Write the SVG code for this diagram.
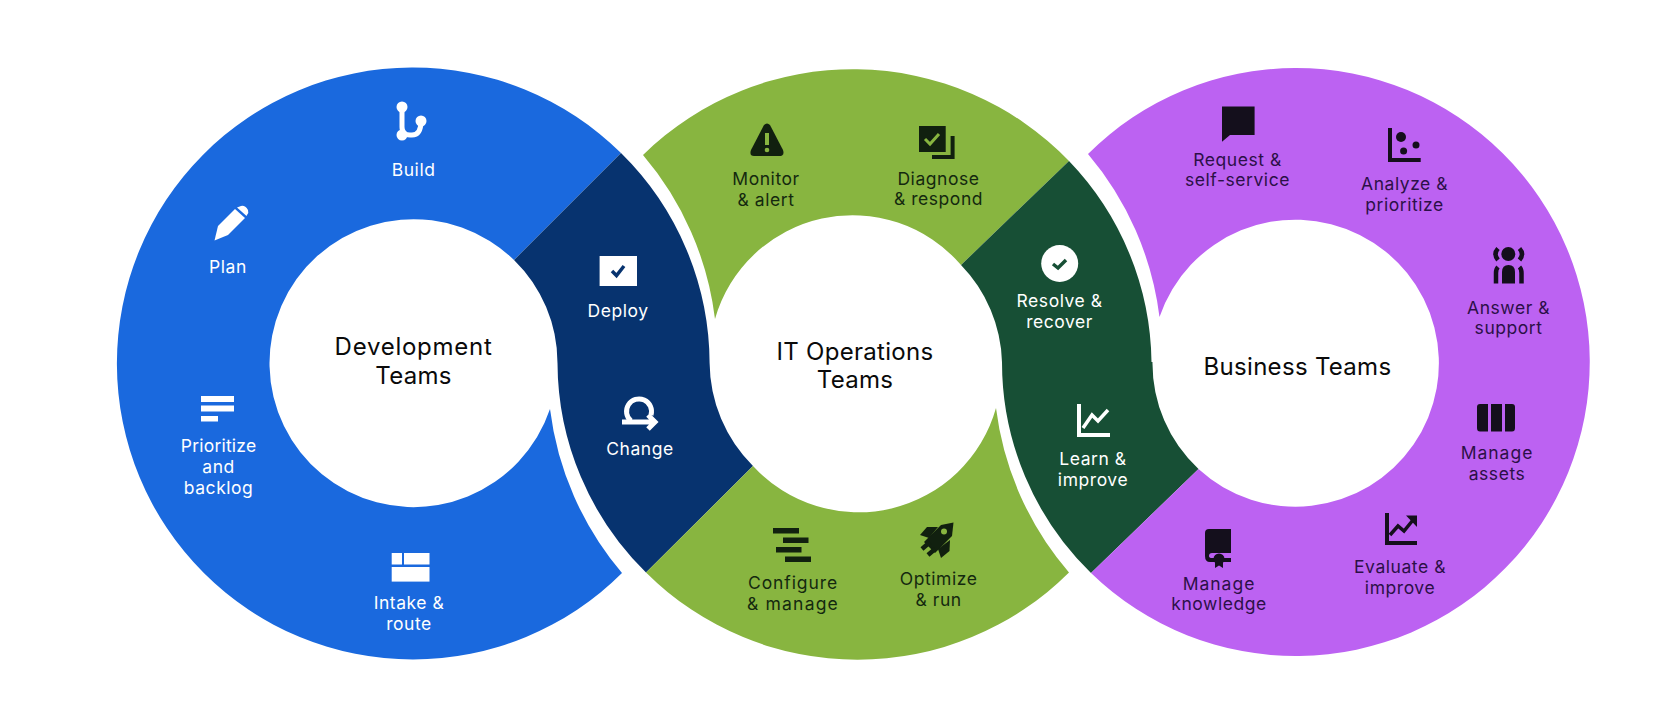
<svg xmlns="http://www.w3.org/2000/svg" width="1680" height="714" viewBox="0 0 1680 714">
<style>
text{font-family:"Inter","Liberation Sans",sans-serif;text-anchor:middle;font-size:17.5px;letter-spacing:.55px}
.w{fill:#fff}.g{fill:#14290f}.p{fill:#2c1048}.t{font-size:24px;fill:#0a0a0a;letter-spacing:.3px}
.iw{fill:#fff}.ig{fill:#11200f}.ip{fill:#140f1c}
.sw{fill:none;stroke:#fff}.sg{fill:none;stroke:#11200f}.sp{fill:none;stroke:#140f1c}
</style>
<rect width="1680" height="714" fill="#fff"/>
<g id="connectors"></g>
<g id="bands">
<path id="dev-ring" fill="#1a69de" d="M621 153A296 296 0 1 0 622 573A312 312 0 0 1 550 409A144 144 0 1 1 514 260Z"/>
<path id="dev-ops" fill="#07336f" d="M621 153L514 260A144 144 0 0 1 557.500 363A295 295 0 0 0 646 572.500L753 466A147 147 0 0 1 709.600 363A296 296 0 0 0 621 153Z"/>
<path id="ops-top" fill="#88b540" d="M643 155A300 300 0 0 1 1069 161L961 265A143 143 0 0 0 715 319A311 311 0 0 0 643 155Z"/>
<path id="ops-bottom" fill="#88b540" d="M646 572.500L753 466A143 143 0 0 0 996 408A311 311 0 0 0 1069 572.500A300 300 0 0 1 646 572.500Z"/>
<path id="ops-biz" fill="#174f35" d="M1069 161L961 265A145 145 0 0 1 1002 362A294 294 0 0 0 1091 573L1198.500 469A144 144 0 0 1 1152.500 362L1151.500 362A295 295 0 0 0 1069 161Z"/>
<path id="biz-ring" fill="#bc62f2" d="M1088 154A294 294 0 1 1 1091 573L1198.500 469A143.500 143.500 0 1 0 1159.500 317A311 311 0 0 0 1088 154Z"/>
</g>
<g id="dev-title"><text class="t" x="413.600" y="355" style="letter-spacing:.75px">Development</text><text class="t" x="413.600" y="384">Teams</text></g>
<g id="ops-title"><text class="t" x="855" y="360">IT Operations</text><text class="t" x="855" y="388">Teams</text></g>
<g id="biz-title"><text class="t" x="1297.500" y="375">Business Teams</text></g>
<g id="build"><path class="sw" stroke-width="5" d="M402 107V127Q402 135 410 135H412Q421 135 421 121"/><circle class="iw" cx="402" cy="107" r="5.500"/><circle class="iw" cx="402" cy="135" r="5.500"/><circle class="iw" cx="421" cy="121" r="5.500"/><text class="w" x="413.600" y="176">Build</text></g>
<g id="plan"><path class="iw" d="M214.500 240.500L218 226L235 209L245 218L228 235Z"/><path class="iw" d="M237 207.500L241 206Q245 205 248 210Q249 213 247 215L246.500 216Z"/><text class="w" x="228" y="273">Plan</text></g>
<g id="prioritize"><rect class="iw" x="201" y="396" width="33" height="6"/><rect class="iw" x="201" y="405.500" width="33" height="6"/><rect class="iw" x="201" y="416" width="17" height="5.500"/><text class="w" x="218.600" y="452" style="letter-spacing:.2px">Prioritize</text><text class="w" x="218.600" y="473">and</text><text class="w" x="218.600" y="494">backlog</text></g>
<g id="intake"><rect class="iw" x="391.700" y="553" width="10.300" height="11.500"/><rect class="iw" x="404" y="553" width="25.500" height="11.500"/><rect class="iw" x="391.700" y="567" width="37.800" height="14.600"/><text class="w" x="409" y="609">Intake &amp;</text><text class="w" x="409" y="630">route</text></g>
<g id="deploy"><rect class="iw" x="599.600" y="256" width="37.400" height="30"/><path fill="none" stroke="#07336f" stroke-width="3.500" d="M612 271L616.500 275.500L624 266"/><text class="w" x="618" y="317">Deploy</text></g>
<g id="change"><path class="sw" stroke-width="5" d="M631 421A12.500 12.500 0 1 1 651 415"/><path class="sw" stroke-width="5" d="M622 422H654M648 415L655 422L648 429"/><text class="w" x="640" y="455">Change</text></g>
<g id="monitor"><path class="ig" d="M764 125Q767 122 770 125L783 150Q785 156 779 156H754Q749 156 751 150Z"/><rect x="765" y="133" width="4" height="12" fill="#88b540"/><circle cx="767" cy="150" r="2.300" fill="#88b540"/><text class="g" x="766" y="185">Monitor</text><text class="g" x="766" y="206">&amp; alert</text></g>
<g id="diagnose"><rect class="ig" x="919" y="126" width="26.700" height="26"/><path fill="none" stroke="#88b540" stroke-width="3" d="M925 139L930 144L939 134"/><path class="sg" stroke-width="4" d="M932 157H952.600V136"/><text class="g" x="938.500" y="185">Diagnose</text><text class="g" x="938.500" y="205">&amp; respond</text></g>
<g id="configure"><rect class="ig" x="773" y="528" width="26" height="5.500"/><rect class="ig" x="783" y="537.500" width="25.500" height="5.500"/><rect class="ig" x="776" y="547" width="25.500" height="5.500"/><rect class="ig" x="785" y="556.500" width="26" height="5.500"/><text class="g" x="793" y="589" style="letter-spacing:.9px">Configure</text><text class="g" x="793" y="610" style="letter-spacing:1.2px">&amp; manage</text></g>
<g id="optimize"><path class="ig" d="M953.500 522.500L952 536L935 553L924 542L941 525Z"/><path class="ig" d="M938 527L927 527L920 535L929 538Z"/><path class="ig" d="M950 540L949.500 551L941 558L938 549Z"/><path class="sg" stroke-width="4.500" d="M922 549L930 542M928 555L935 549"/><circle cx="944" cy="531.500" r="3" fill="#88b540"/><text class="g" x="938.600" y="585">Optimize</text><text class="g" x="938.600" y="606">&amp; run</text></g>
<g id="resolve"><circle class="iw" cx="1059.700" cy="263.500" r="18.500"/><path fill="none" stroke="#174f35" stroke-width="3.500" d="M1053 264L1058 268L1066 260"/><text class="w" x="1059.600" y="307">Resolve &amp;</text><text class="w" x="1059.600" y="328">recover</text></g>
<g id="learn"><path class="sw" stroke-width="4" d="M1079 404V435H1110"/><path class="sw" stroke-width="3.500" d="M1083 428L1092 415L1098 421L1108 410"/><text class="w" x="1093" y="465">Learn &amp;</text><text class="w" x="1093" y="486">improve</text></g>
<g id="request"><path class="ip" d="M1222 106.500H1254.600V135H1230L1222 141.700Z"/><text class="p" x="1237.500" y="166">Request &amp;</text><text class="p" x="1237.500" y="186">self-service</text></g>
<g id="analyze"><path class="sp" stroke-width="4" d="M1390 128V160H1420.700"/><circle class="ip" cx="1401" cy="137" r="5"/><circle class="ip" cx="1416" cy="145" r="3.500"/><circle class="ip" cx="1403.600" cy="151" r="3.500"/><text class="p" x="1404.600" y="190">Analyze &amp;</text><text class="p" x="1404.600" y="211">prioritize</text></g>
<g id="answer"><circle class="ip" cx="1508.300" cy="254" r="7"/><path class="ip" d="M1502 283.500V272Q1502 265 1508.500 265Q1515 265 1515 272V283.500Z"/><path class="sp" stroke-width="4.500" d="M1498 248.500Q1493 254 1498 260M1519.500 248.500Q1524.500 254 1519.500 260M1496 283.500V273Q1496 269 1498 267M1521.500 283.500V273Q1521.500 269 1519.500 267"/><text class="p" x="1508.600" y="314">Answer &amp;</text><text class="p" x="1508.600" y="334">support</text></g>
<g id="assets"><path class="ip" d="M1480 404H1488V431.500H1480Q1477 431.500 1477 428V407Q1477 404 1480 404Z"/><rect class="ip" x="1491" y="404" width="11" height="27.500"/><path class="ip" d="M1505 404H1512Q1515 404 1515 407V428Q1515 431.500 1512 431.500H1505Z"/><text class="p" x="1497" y="459" style="letter-spacing:1px">Manage</text><text class="p" x="1497" y="480">assets</text></g>
<g id="evaluate"><path class="sp" stroke-width="4" d="M1387 513V543H1417"/><path class="sp" stroke-width="3.500" d="M1390 535L1398 526L1404 531L1413 520"/><path class="ip" d="M1406 515.500H1417V527Z"/><text class="p" x="1400" y="573">Evaluate &amp;</text><text class="p" x="1400" y="594">improve</text></g>
<g id="knowledge"><path class="ip" d="M1209 529H1231V553H1212Q1209 553 1209 556Q1209 558 1212 558H1231V562H1210Q1205 562 1205 556V533Q1205 529 1209 529Z"/><circle class="ip" cx="1219" cy="559" r="5.500"/><path class="ip" d="M1215 562V568L1219 565.500L1223 568V562Z"/><text class="p" x="1219" y="590" style="letter-spacing:1px">Manage</text><text class="p" x="1219" y="610">knowledge</text></g>
</svg>
